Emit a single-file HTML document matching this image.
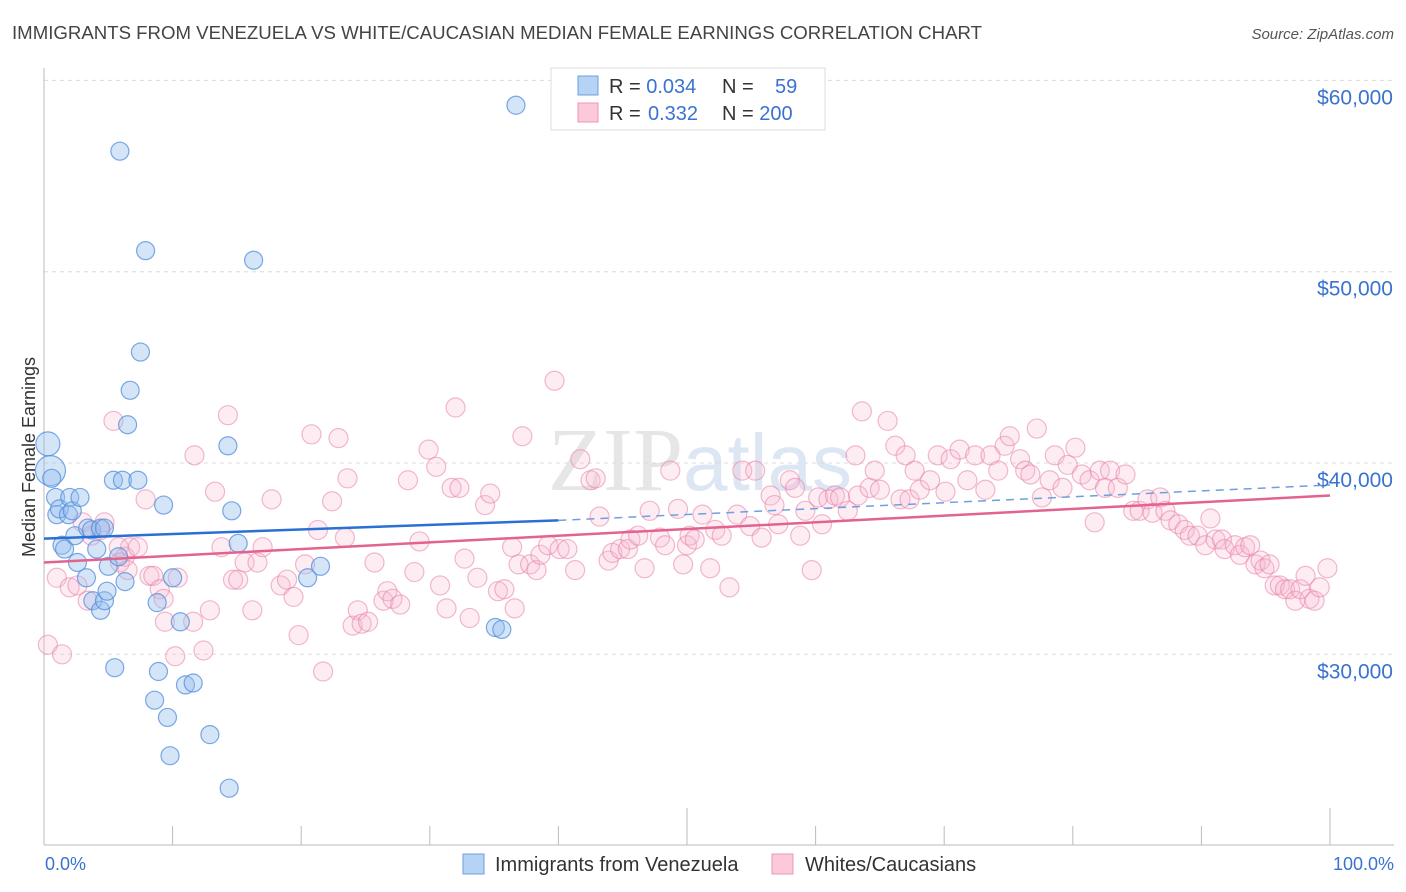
<!DOCTYPE html>
<html><head><meta charset="utf-8">
<style>
body{margin:0;background:#fff;font-family:"Liberation Sans",sans-serif;}
svg{display:block}
</style></head>
<body>
<svg id="chart" width="1406" height="892" viewBox="0 0 1406 892">
<text x="12" y="39" font-size="18" fill="#444" textLength="970" lengthAdjust="spacingAndGlyphs">IMMIGRANTS FROM VENEZUELA VS WHITE/CAUCASIAN MEDIAN FEMALE EARNINGS CORRELATION CHART</text>
<text x="1394" y="39" font-size="15" fill="#555" font-style="italic" text-anchor="end">Source: ZipAtlas.com</text>
<text x="700" y="490" font-size="90" fill="#e6e6e6" text-anchor="middle" font-family="Liberation Serif, serif">ZIP<tspan fill="#dde6f3" font-family="Liberation Sans, sans-serif" font-size="80">atlas</tspan></text>
<g id="grid"></g>
<g id="axes"></g>
<g id="pinkPts"></g>
<g id="bluePts"></g>
<g id="trends"></g>
<text transform="translate(35,457) rotate(-90)" font-size="18" fill="#333" text-anchor="middle">Median Female Earnings</text>
<text x="45" y="870" font-size="18" fill="#3a72d0">0.0%</text>
<text x="1394" y="870" font-size="18" fill="#3a72d0" text-anchor="end">100.0%</text>
<g>
<rect x="551" y="68" width="274" height="62" fill="#fff" stroke="#ddd"/>
<rect x="578" y="76" width="20" height="19" fill="#b6d2f5" stroke="#6f9fe0"/>
<rect x="578" y="103" width="20" height="19" fill="#fbc9d8" stroke="#eb97b3"/>
<text x="609" y="93" font-size="20" fill="#333">R = <tspan fill="#3a72d0">0.034</tspan></text>
<text x="722" y="93" font-size="20" fill="#333">N = <tspan fill="#3a72d0" x="775">59</tspan></text>
<text x="609" y="120" font-size="20" fill="#333">R = <tspan fill="#3a72d0" x="648">0.332</tspan></text>
<text x="722" y="120" font-size="20" fill="#333">N = <tspan fill="#3a72d0">200</tspan></text>
</g>
<g>
<rect x="463" y="854" width="21" height="20" fill="#b6d2f5" stroke="#6f9fe0"/>
<text x="495" y="871" font-size="20" fill="#333">Immigrants from Venezuela</text>
<rect x="772" y="854" width="21" height="20" fill="#fbc9d8" stroke="#eb97b3"/>
<text x="805" y="871" font-size="20" fill="#333">Whites/Caucasians</text>
</g>
</svg>
<script>
const yTicks=[30000,40000,50000,60000];
const yTickLabels=["$30,000","$40,000","$50,000","$60,000"];
const xTicks=[0,10,20,30,40,50,60,70,80,90,100];
const blueX=[0.3,0.5,0.6,0.9,1.0,1.2,1.4,1.6,1.9,2.0,2.2,2.4,2.6,2.8,3.3,3.4,3.7,3.8,4.1,4.4,4.4,4.7,4.7,4.9,5.0,5.4,5.5,5.8,5.9,6.1,6.3,6.5,6.7,7.3,7.5,7.9,8.6,8.8,8.9,9.3,9.6,9.8,10.0,10.6,11.0,11.6,12.9,14.3,14.4,14.6,15.1,16.3,20.5,21.5,35.1,35.6,36.7];
const blueY=[41.0,39.6,39.2,38.2,37.3,37.6,35.7,35.5,37.3,38.2,37.5,36.2,34.8,38.2,34.0,36.6,36.5,32.8,35.5,36.6,32.3,36.6,32.8,33.3,34.6,39.1,29.3,35.1,56.3,39.1,33.8,42.0,43.8,39.1,45.8,51.1,27.6,32.7,29.1,37.8,26.7,24.7,34.0,31.7,28.4,28.5,25.8,40.9,23.0,37.5,35.8,50.6,34.0,34.6,31.4,31.3,58.7];
const blueR=[12,15,9,9,9,9,9,9,9,9,9,9,9,9,9,9,9,9,9,9,9,9,9,9,9,9,9,9,9,9,9,9,9,9,9,9,9,9,9,9,9,9,9,9,9,9,9,9,9,9,9,9,9,9,9,9,9];
const pinkX=[0.3,1.0,1.4,2.0,2.6,3.0,3.4,3.7,4.4,4.7,5.4,5.8,5.9,6.3,6.5,6.7,7.3,7.9,8.2,8.5,9.0,9.3,9.4,10.2,10.4,11.6,11.7,12.4,12.9,13.3,13.8,14.3,14.7,15.1,15.6,16.2,16.6,17.0,17.7,18.4,18.9,19.4,19.8,20.3,20.8,21.3,21.7,22.4,22.9,23.4,23.6,24.0,24.4,24.7,25.2,25.7,26.4,26.7,27.1,27.7,28.3,28.8,29.2,29.9,30.5,30.8,31.3,31.7,32.0,32.3,32.7,33.1,33.7,34.3,34.7,35.3,35.8,36.4,36.6,36.9,37.2,37.8,38.3,38.6,39.2,39.7,40.1,40.7,41.3,41.7,42.5,42.9,43.2,43.9,44.2,44.8,45.4,45.6,46.2,46.7,47.1,47.9,48.3,48.7,49.3,49.7,50.0,50.2,50.6,51.2,51.8,52.2,52.7,53.3,53.9,54.3,54.9,55.3,55.8,56.5,56.8,57.1,58.0,58.4,58.8,59.2,59.7,60.2,60.5,61.0,61.5,61.9,62.5,63.1,63.3,63.6,64.2,64.6,65.0,65.6,66.2,66.6,67.0,67.3,67.7,68.1,68.9,69.5,70.1,70.5,71.2,71.8,72.4,73.2,73.6,74.2,74.7,75.1,75.9,76.3,76.7,77.2,77.6,78.2,78.6,79.2,79.6,80.2,80.7,81.3,81.7,82.1,82.5,82.9,83.5,84.1,84.7,85.2,85.8,86.2,86.8,87.2,87.6,88.2,88.7,89.1,89.7,90.3,90.7,91.1,91.6,91.8,92.6,93.0,93.4,93.8,94.2,94.6,94.9,95.3,95.7,96.1,96.5,96.9,97.3,97.7,98.1,98.4,98.8,99.2,99.8];
const pinkY=[30.5,34.0,30.0,33.5,33.6,36.9,32.8,36.2,36.5,36.9,42.2,35.6,34.8,35.1,34.4,35.6,35.6,38.1,34.1,34.1,33.4,32.9,31.7,29.9,34.0,31.7,40.4,30.2,32.3,38.5,35.6,42.5,33.9,33.9,34.8,32.3,34.8,35.6,38.1,33.6,33.9,33.0,31.0,34.7,41.5,36.5,29.1,38.0,41.3,36.1,39.2,31.5,32.3,31.6,31.7,34.8,32.8,33.3,32.9,32.6,39.1,34.3,35.9,40.7,39.8,33.6,32.4,38.7,42.9,38.7,35.0,31.9,34.0,37.8,38.4,33.3,33.4,35.6,32.4,34.7,41.4,34.7,34.4,35.2,35.7,44.3,35.5,35.5,34.4,40.2,39.1,39.2,37.2,34.9,35.3,35.5,35.5,36.0,36.2,34.5,37.5,36.1,35.7,39.6,37.6,34.7,35.7,36.2,36.0,37.3,34.5,36.5,36.2,33.5,37.3,39.6,36.7,39.6,36.1,38.3,37.8,36.8,39.1,38.7,36.2,37.5,34.4,38.2,36.8,38.1,38.3,38.2,37.5,40.4,38.3,42.7,38.7,39.6,38.6,42.2,40.9,38.1,40.4,38.1,39.6,38.6,39.1,40.4,38.5,40.2,40.7,39.1,40.4,38.6,40.4,39.6,40.9,41.4,40.2,39.6,39.4,41.8,38.2,39.1,40.4,38.7,39.9,40.8,39.4,39.1,36.9,39.6,38.7,39.6,38.7,39.4,37.5,37.5,38.1,37.4,38.2,37.5,37.0,36.8,36.5,36.2,36.2,35.7,37.1,36.0,36.0,35.5,35.7,35.2,35.6,35.7,34.7,34.9,34.5,34.7,33.6,33.6,33.4,33.4,32.8,33.4,34.1,32.9,32.8,33.5,34.5];
const blueTrendX=[0,40,100];
const blueTrendY=[36.05,37.0,38.85];
const pinkTrendX=[0,100];
const pinkTrendY=[34.8,38.3];

const NS="http://www.w3.org/2000/svg";
const X0=44,X1=1330;
function xs(p){return X0+(X1-X0)*p/100;}
function ys(k){return 463-(k*1000-40000)/10000*191.3;}
function mk(tag,attrs,parent){const e=document.createElementNS(NS,tag);for(const k in attrs)e.setAttribute(k,attrs[k]);parent.appendChild(e);return e;}
const grid=document.getElementById('grid'),axes=document.getElementById('axes');
yTicks.forEach((v,i)=>{
  const y=ys(v/1000);
  const l=mk('line',{x1:X0,x2:1394,y1:y,y2:y,stroke:'#dcdcdc','stroke-dasharray':'4,4'},grid);
  
  
  const t=mk('text',{x:1393,y:y+24,'font-size':21,fill:'#3a72d0','text-anchor':'end'},axes);
  t.textContent=yTickLabels[i];
  
  
});
const ax=mk('line',{x1:X0,x2:X0,y1:68,y2:845,stroke:'#bbb'},axes);


const bx=mk('line',{x1:X0,x2:1394,y1:845,y2:845,stroke:'#bbb'},axes);


xTicks.forEach((p,i)=>{
  const x=xs(p);
  const t=mk('line',{x1:x,x2:x,y1:(i===5||i===10)?808:826,y2:845,stroke:'#bbb'},axes);
  
  
});
const pg=document.getElementById('pinkPts');
pinkX.forEach((p,i)=>{
  const c=mk('circle',{cx:xs(p),cy:ys(pinkY[i]),r:9.5,fill:'rgba(248,185,207,0.25)',stroke:'rgba(232,128,165,0.55)','stroke-width':1.2},pg);
  
  
});
const bg=document.getElementById('bluePts');
blueX.forEach((p,i)=>{
  const c=mk('circle',{cx:xs(p),cy:ys(blueY[i]),r:blueR[i],fill:'rgba(150,190,238,0.4)',stroke:'rgba(80,140,220,0.75)','stroke-width':1.2},bg);
  
  
});
const tg=document.getElementById('trends');
const b1=mk('line',{x1:xs(blueTrendX[0]),y1:ys(blueTrendY[0]),x2:xs(blueTrendX[1]),y2:ys(blueTrendY[1]),stroke:'#2b6fd5','stroke-width':2.5},tg);


const b2=mk('line',{x1:xs(blueTrendX[1]),y1:ys(blueTrendY[1]),x2:xs(blueTrendX[2]),y2:ys(blueTrendY[2]),stroke:'#6f9fe0','stroke-width':1.5,'stroke-dasharray':'8,6'},tg);


const p1=mk('line',{x1:xs(pinkTrendX[0]),y1:ys(pinkTrendY[0]),x2:xs(pinkTrendX[1]),y2:ys(pinkTrendY[1]),stroke:'#e3628f','stroke-width':2.5},tg);


</script>
</body></html>
